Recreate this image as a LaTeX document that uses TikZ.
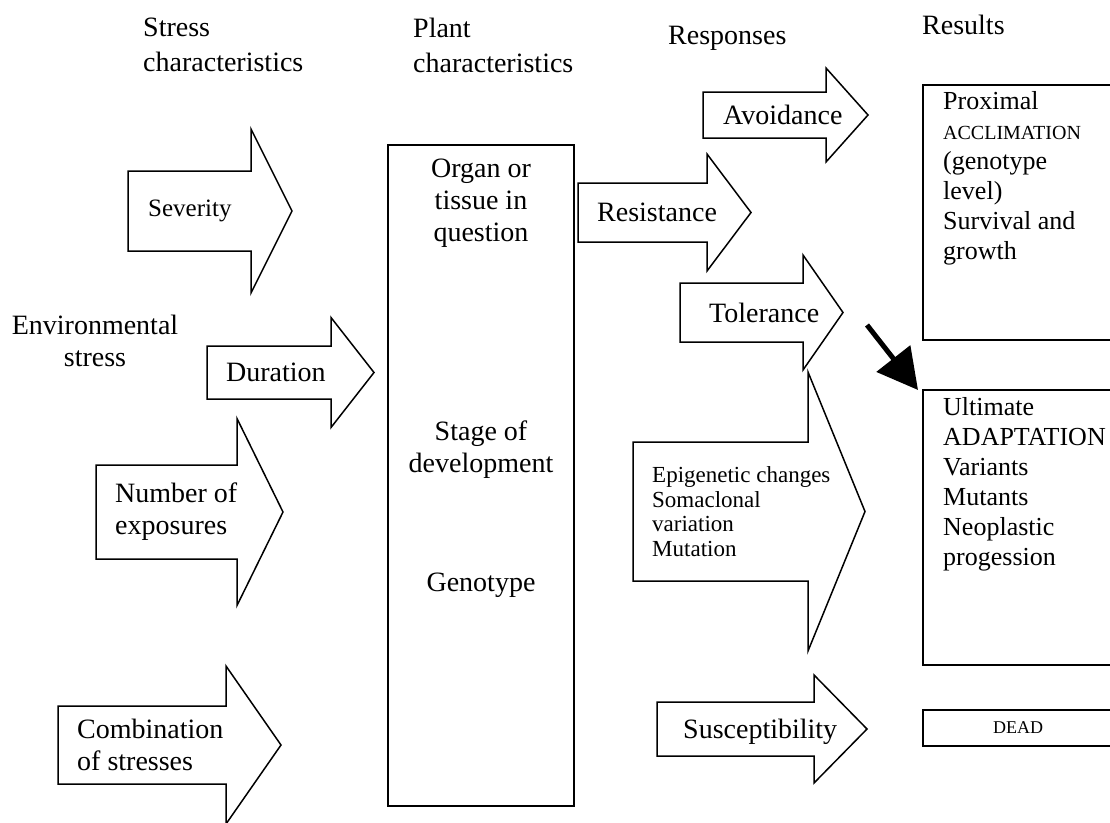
\documentclass[tikz,border=0pt]{standalone}
\usepackage{fontspec}
\setmainfont{Liberation Serif}
\usepackage{tikz}
\usetikzlibrary{arrows.meta, positioning}

% block arrow: name, left x, mid y, shaft half height, head base x, head half height, tip x
\newcommand{\blockarrow}[7]{%
  \draw[barrow] (#2,#3-#4) -- (#5,#3-#4) -- (#5,#3-#6) -- (#7,#3)
    -- (#5,#3+#6) -- (#5,#3+#4) -- (#2,#3+#4) -- cycle;
  \coordinate (#1) at (#2,#3);}

\begin{document}
\begin{tikzpicture}[
        x=1pt, y=-1pt,
        barrow/.style={draw=black, line width=1.5pt, fill=white, line join=miter},
        box/.style={draw=black, line width=1.5pt},
        lbl/.style={font=\fontsize{28}{32}\selectfont, align=left, inner sep=0pt},
        small/.style={font=\fontsize{23}{24.5}\selectfont, align=left, inner sep=0pt},
        result/.style={font=\fontsize{26}{30}\selectfont, align=left, inner sep=0pt},
        head/.style={font=\fontsize{28}{35}\selectfont, align=left, inner sep=0pt}
    ]
    \useasboundingbox (0,0) rectangle (1110,822);

    % Headings
    \node[head, anchor=west] (stresshd) at (143,45) {Stress\\characteristics};
    \node[head, anchor=west] (planthd) at (413,45) {Plant\\characteristics};
    \node[head, anchor=west] (resphd) at (668,38) {Responses};
    \node[head, anchor=west] (resulthd) at (922,25) {Results};

    \node[lbl, align=center] (env) at (95,341) {Environmental\\stress};

    % Stress arrows
    \blockarrow{sev}{128}{211}{40}{251}{82}{292}
    \blockarrow{dur}{207}{372.5}{26.5}{331}{55}{374}
    \blockarrow{num}{96}{512}{47}{237}{93.5}{283}
    \blockarrow{comb}{58}{745}{39}{226}{79}{281}
    \node[lbl, font=\fontsize{25}{30}\selectfont, right=20pt of sev] (sevtxt) {Severity};
    \node[lbl, right=19pt of dur] (durtxt) {Duration};
    \node[lbl, right=19pt of num] (numtxt) {Number of\\exposures};
    \node[lbl, right=19pt of comb] (combtxt) {Combination\\of stresses};

    % Plant box
    \draw[box] (388,145) rectangle (574,806);
    \node[lbl, align=center] (organ) at (481,203) {Organ or\\tissue in\\question};
    \node[lbl, align=center] (stage) at (481,450) {Stage of\\development};
    \node[lbl, align=center] (geno) at (481,585) {Genotype};

    % Response arrows
    \blockarrow{avo}{703}{115}{23}{826}{47}{868}
    \blockarrow{res}{578}{212.5}{29.5}{707}{58.5}{751}
    \blockarrow{tol}{680}{312.5}{29.5}{803}{57.5}{843}
    \blockarrow{epi}{633}{511.5}{69.5}{808}{139.5}{865}
    \blockarrow{sus}{657}{729}{27}{814}{54}{867}
    \node[lbl, right=20pt of avo] (avotxt) {Avoidance};
    \node[lbl, right=19pt of res] (restxt) {Resistance};
    \node[lbl, right=29pt of tol] (toltxt) {Tolerance};
    \node[small, right=19pt of epi] (epitxt) {Epigenetic changes\\Somaclonal\\variation\\Mutation};
    \node[lbl, right=26pt of sus, yshift=-3pt] (sustxt) {Susceptibility};

    % Results
    \draw[box] (923,85) rectangle (1120,340);
    \draw[box] (923,390) rectangle (1120,665);
    \draw[box] (923,710) rectangle (1120,746);
    \node[result, anchor=west] (accl) at (943,178) {Proximal\\{\fontsize{20}{30}\selectfont ACCLIMATION}\\(genotype\\level)\\Survival and\\growth};
    \node[result, anchor=west] (adapt) at (943,484) {Ultimate\\ADAPTATION\\Variants\\Mutants\\Neoplastic\\progession};
    \node[result, font=\fontsize{18}{20}\selectfont] (dead) at (1018,728) {DEAD};

    % Arrow to adaptation
    \coordinate (blkA) at (867,325);
    \coordinate (blkB) at (918,390);
    \draw[line width=5pt, -{Triangle[length=40pt, width=42pt]}] (blkA) -- (blkB);

\end{tikzpicture}
\end{document}
